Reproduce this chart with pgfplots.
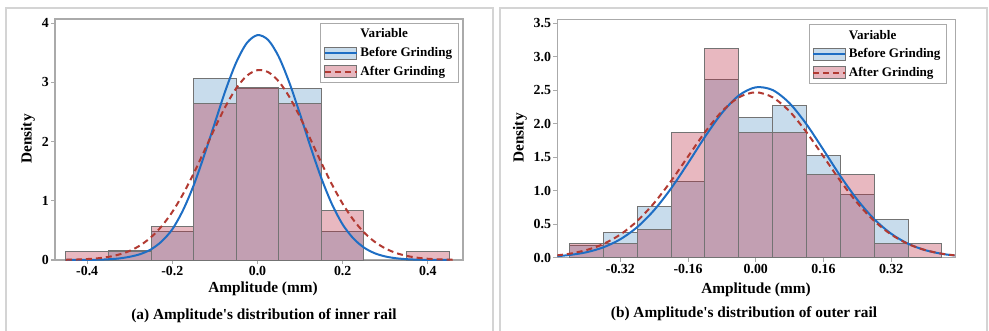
\documentclass[border=0pt]{standalone}
\usepackage{pgfplots}
\pgfplotsset{compat=1.18}
\usepackage{fontspec}
\setmainfont{Liberation Serif}
\newfontfamily\plainserif{Liberation Serif}
\definecolor{barblue}{RGB}{200,220,236}
\definecolor{barpink}{RGB}{183,33,58}
\definecolor{bargray}{RGB}{115,115,115}
\definecolor{axisgray}{RGB}{170,170,170}
\definecolor{framegray}{RGB}{212,212,212}
\definecolor{lineblue}{RGB}{30,110,196}
\definecolor{linered}{RGB}{178,58,50}
\newcommand{\tickfont}{\fontsize{10.4}{12}\selectfont\bfseries}
\newcommand{\labfont}{\fontsize{11.5}{13}\selectfont\bfseries}
\newcommand{\apos}{{\plainserif\bfseries'}}
\pgfplotsset{
  panel/.style={
    scale only axis, anchor=south west, clip=true,
    axis line style={draw=axisgray, line width=0.8pt},
    tick style={draw=axisgray, line width=0.8pt},
    tick align=outside, tick pos=left, major tick length=3pt,
    ticklabel style={font=\tickfont, text=black, inner sep=1.5pt},
    legend cell align=left,
    legend style={draw=axisgray, fill=white, font=\fontsize{9.8}{11}\selectfont\bfseries,
      inner xsep=2.5pt, inner ysep=2pt, row sep=1.6pt},
  },
  beforebar/.style={ybar interval, fill=barblue, draw=bargray, line width=0.75pt, forget plot},
  afterbar/.style={ybar interval, fill=barpink, fill opacity=0.32, draw=bargray, draw opacity=1, line width=0.75pt, forget plot},
  beforecurve/.style={lineblue, line width=1.5pt, smooth, forget plot},
  aftercurve/.style={linered, line width=1.5pt, dash pattern=on 4.5pt off 3pt, smooth, forget plot},
}
\begin{document}
\begin{tikzpicture}[x=0.75pt,y=0.75pt]
\useasboundingbox (0,0) rectangle (989,330);
\draw[framegray, line width=0.9pt] (6,-10) rectangle (493,322);
\draw[framegray, line width=0.9pt] (500,-10) rectangle (987,322);

% ---------------- left panel ----------------
\begin{axis}[panel, at={(41.25pt,52.5pt)}, width=306pt, height=180.75pt,
  xmin=-0.4756, xmax=0.4826, ymin=0, ymax=4.07,
  xtick={-0.4,-0.2,0,0.2,0.4}, xticklabels={-0.4,-0.2,0.0,0.2,0.4},
  ytick={0,1,2,3,4}, yticklabels={0,1,2,3,4},
  legend style={at={(rel axis cs:1,1)}, anchor=north east, xshift=-3.5pt, yshift=-3.2pt}]
\addplot[beforebar] coordinates {(-0.35,0.16)(-0.25,0.48)(-0.15,3.06)(-0.05,2.90)(0.05,2.90)(0.15,0.48)(0.25,0.48)};
\addplot[afterbar] coordinates {(-0.45,0.14)(-0.35,0.14)(-0.25,0.56)(-0.15,2.64)(-0.05,2.92)(0.05,2.64)(0.15,0.83)(0.25,0)(0.35,0.14)(0.45,0.14)};
\addplot[beforecurve] coordinates {(-0.45,0.0003)(-0.425,0.0008)(-0.40,0.002)(-0.375,0.005)(-0.35,0.012)(-0.325,0.026)(-0.30,0.055)(-0.275,0.100)(-0.25,0.180)(-0.225,0.315)(-0.20,0.52)(-0.175,0.84)(-0.15,1.26)(-0.125,1.77)(-0.10,2.32)(-0.075,2.868)(-0.05,3.337)(-0.025,3.665)(0,3.798)(0.025,3.716)(0.05,3.431)(0.075,2.991)(0.10,2.460)(0.125,1.900)(0.15,1.38)(0.175,0.94)(0.20,0.60)(0.225,0.365)(0.25,0.210)(0.275,0.115)(0.30,0.060)(0.325,0.030)(0.35,0.014)(0.375,0.006)(0.40,0.003)(0.425,0.001)(0.45,0.0004)};
\addplot[aftercurve] coordinates {(-0.45,0.004)(-0.425,0.008)(-0.40,0.016)(-0.375,0.029)(-0.35,0.053)(-0.325,0.093)(-0.30,0.155)(-0.275,0.249)(-0.25,0.385)(-0.225,0.571)(-0.20,0.813)(-0.175,1.112)(-0.15,1.461)(-0.125,1.842)(-0.10,2.232)(-0.075,2.596)(-0.05,2.900)(-0.025,3.112)(0,3.206)(0.025,3.173)(0.05,3.015)(0.075,2.752)(0.10,2.412)(0.125,2.030)(0.15,1.641)(0.175,1.274)(0.20,0.950)(0.225,0.680)(0.25,0.467)(0.275,0.309)(0.30,0.196)(0.325,0.119)(0.35,0.070)(0.375,0.039)(0.40,0.021)(0.425,0.011)(0.45,0.005)(0.465,0.004)};
\addlegendimage{empty legend}\addlegendentry{Variable}
\addlegendimage{legend image code/.code={\draw[fill=barblue,draw=bargray,line width=0.6pt] (0pt,-4.5pt) rectangle (24pt,4.5pt); \draw[lineblue,line width=1.5pt] (0pt,0pt)--(24pt,0pt);}}
\addlegendentry{Before Grinding}
\addlegendimage{legend image code/.code={\draw[fill=barpink,fill opacity=0.32,draw=bargray,line width=0.6pt] (0pt,-4.5pt) rectangle (24pt,4.5pt); \draw[linered,line width=1.5pt,dash pattern=on 4.5pt off 3pt] (0pt,0pt)--(24pt,0pt);}}
\addlegendentry{After Grinding}
\end{axis}

% ---------------- right panel ----------------
\begin{axis}[panel, at={(417.98pt,54.2pt)}, width=298.3pt, height=179.0pt,
  xmin=-0.469, xmax=0.471, ymin=0, ymax=3.564,
  xtick={-0.32,-0.16,0,0.16,0.32}, xticklabels={-0.32,-0.16,0.00,0.16,0.32},
  ytick={0,0.5,1,1.5,2,2.5,3,3.5}, yticklabels={0.0,0.5,1.0,1.5,2.0,2.5,3.0,3.5},
  legend style={at={(rel axis cs:1,1)}, anchor=north east, xshift=-6.2pt, yshift=-4pt}]
\addplot[beforebar] coordinates {(-0.44,0.19)(-0.36,0.38)(-0.28,0.76)(-0.20,1.14)(-0.12,2.66)(-0.04,2.09)(0.04,2.28)(0.12,1.52)(0.20,0.95)(0.28,0.57)(0.36,0.57)};
\addplot[afterbar] coordinates {(-0.44,0.21)(-0.36,0.21)(-0.28,0.42)(-0.20,1.87)(-0.12,3.13)(-0.04,1.87)(0.04,1.87)(0.12,1.25)(0.20,1.25)(0.28,0.21)(0.36,0.21)(0.44,0.21)};
\addplot[beforecurve] coordinates {(-0.47,0.023)(-0.44,0.041)(-0.40,0.082)(-0.36,0.156)(-0.32,0.276)(-0.28,0.458)(-0.24,0.712)(-0.20,1.036)(-0.16,1.413)(-0.12,1.806)(-0.08,2.161)(-0.04,2.423)(0,2.545)(0.04,2.504)(0.08,2.307)(0.12,1.992)(0.16,1.611)(0.20,1.220)(0.24,0.866)(0.28,0.576)(0.32,0.359)(0.36,0.209)(0.40,0.114)(0.44,0.058)(0.47,0.034)};
\addplot[aftercurve] coordinates {(-0.47,0.036)(-0.44,0.060)(-0.40,0.115)(-0.36,0.206)(-0.32,0.347)(-0.28,0.549)(-0.24,0.819)(-0.20,1.147)(-0.16,1.512)(-0.12,1.874)(-0.08,2.185)(-0.04,2.395)(0,2.47)(0.04,2.395)(0.08,2.185)(0.12,1.874)(0.16,1.512)(0.20,1.147)(0.24,0.819)(0.28,0.549)(0.32,0.347)(0.36,0.206)(0.40,0.115)(0.44,0.060)(0.47,0.036)};
\addlegendimage{empty legend}\addlegendentry{Variable}
\addlegendimage{legend image code/.code={\draw[fill=barblue,draw=bargray,line width=0.6pt] (0pt,-4.5pt) rectangle (24pt,4.5pt); \draw[lineblue,line width=1.5pt] (0pt,0pt)--(24pt,0pt);}}
\addlegendentry{Before Grinding}
\addlegendimage{legend image code/.code={\draw[fill=barpink,fill opacity=0.32,draw=bargray,line width=0.6pt] (0pt,-4.5pt) rectangle (24pt,4.5pt); \draw[linered,line width=1.5pt,dash pattern=on 4.5pt off 3pt] (0pt,0pt)--(24pt,0pt);}}
\addlegendentry{After Grinding}
\end{axis}

% ---------------- labels ----------------
\node[rotate=90, font=\labfont, inner sep=1pt] at (28,191) {Density};
\node[rotate=90, font=\labfont, inner sep=1pt] at (520,192) {Density};
\node[font=\labfont, inner sep=1pt] at (263,41.5) {Amplitude (mm)};
\node[font=\labfont, inner sep=1pt] at (756,40) {Amplitude (mm)};
\node[font=\labfont, inner sep=1pt] at (264,14) {(a) Amplitude\apos s distribution of inner rail};
\node[font=\labfont, inner sep=1pt] at (744,16) {(b) Amplitude\apos s distribution of outer rail};
\end{tikzpicture}
\end{document}
